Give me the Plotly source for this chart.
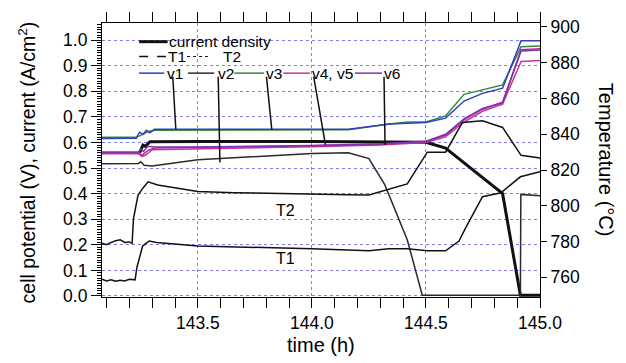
import plotly.graph_objects as go

# ---------------- data ----------------
t_cur = [143.245, 143.26, 143.27, 143.29, 143.5, 144.0, 144.5, 144.586, 144.836, 144.914, 145.0]
cur   = [0.56, 0.59, 0.585, 0.603, 0.604, 0.604, 0.601, 0.578, 0.40, 0.003, 0.003]

t_T1 = [143.08, 143.10, 143.12, 143.14, 143.16, 143.18, 143.20, 143.225, 143.233, 143.243, 143.258,
        143.287, 143.32, 143.5, 144.0, 144.25, 144.337, 144.418, 144.506, 144.586, 144.645, 144.674,
        144.748, 144.829, 144.914, 145.0]
T1   = [759.0, 758.0, 758.6, 757.8, 758.4, 758.0, 758.9, 758.6, 765.5, 771.0, 777.5,
        780.3, 779.5, 777.5, 776.0, 774.8, 776.0, 776.0, 774.8, 774.8, 780.3, 787.6,
        805.1, 807.3, 816.2, 819.0]

t_T2 = [143.08, 143.10, 143.12, 143.14, 143.16, 143.18, 143.20, 143.212, 143.218, 143.238, 143.26,
        143.282, 143.324, 143.5, 143.66, 144.0, 144.16, 144.25, 144.418, 144.506, 144.586, 144.66,
        144.748, 144.836, 144.917, 145.0]
T2   = [779.0, 778.2, 779.5, 780.5, 781.0, 779.5, 779.8, 779.0, 792.8, 806.0, 810.0,
        813.4, 811.6, 808.0, 807.3, 806.8, 806.2, 806.0, 812.2, 830.0, 830.0, 846.6,
        847.5, 843.8, 828.2, 826.7]

t_v1 = [143.08, 143.23, 143.245, 143.26, 143.275, 143.29, 143.31, 143.5, 144.0, 144.16, 144.34,
        144.5, 144.586, 144.667, 144.748, 144.836, 144.917, 145.0]
v1   = [0.616, 0.617, 0.640, 0.632, 0.648, 0.638, 0.652, 0.652, 0.652, 0.652, 0.672,
        0.678, 0.695, 0.762, 0.792, 0.812, 0.998, 0.998]

t_v2 = [143.08, 143.24, 143.25, 143.265, 143.30, 143.5, 144.0, 144.16, 144.25, 144.32, 144.418,
        144.484, 144.914, 144.916, 145.0]
v2   = [0.517, 0.518, 0.525, 0.511, 0.508, 0.532, 0.557, 0.560, 0.537, 0.434, 0.220,
        0.003, 0.003, 0.397, 0.392]

t_v3 = [143.08, 143.23, 143.25, 143.28, 143.31, 143.5, 144.0, 144.16, 144.34, 144.42, 144.5,
        144.586, 144.667, 144.748, 144.836, 144.917, 145.0]
v3   = [0.620, 0.620, 0.628, 0.642, 0.648, 0.648, 0.648, 0.650, 0.672, 0.680, 0.680,
        0.704, 0.788, 0.806, 0.825, 0.974, 0.977]

t_v4 = [143.08, 143.24, 143.255, 143.27, 143.30, 143.5, 144.0, 144.3, 144.5, 144.586, 144.667,
        144.748, 144.836, 144.917, 145.0]
v4   = [0.556, 0.556, 0.545, 0.550, 0.572, 0.575, 0.583, 0.590, 0.600, 0.622, 0.680,
        0.722, 0.750, 0.917, 0.920]

t_v5 = [143.08, 143.24, 143.255, 143.28, 143.31, 143.5, 144.0, 144.3, 144.5, 144.586, 144.667,
        144.748, 144.836, 144.917, 145.0]
v5   = [0.560, 0.560, 0.550, 0.568, 0.578, 0.580, 0.587, 0.593, 0.603, 0.628, 0.688,
        0.730, 0.757, 0.963, 0.966]

t_v6 = [143.08, 143.24, 143.25, 143.262, 143.28, 143.31, 143.5, 144.0, 144.3, 144.5, 144.586,
        144.667, 144.748, 144.836, 144.917, 145.0]
v6   = [0.563, 0.563, 0.575, 0.565, 0.585, 0.582, 0.582, 0.588, 0.595, 0.605, 0.632,
        0.692, 0.733, 0.755, 0.958, 0.961]

x_tickvals = [143.5, 144.0, 144.5, 145.0]
x_ticktext = ["143.5", "144.0", "144.5", "145.0"]
y2_tickvals = [760, 780, 800, 820, 840, 860, 880, 900]

# ---------------- styles ----------------
FONT = "Liberation Sans, Arial, Helvetica, sans-serif"
BLUE = "#2f3fc0"
GREEN = "#2f8a3a"
MAGENTA = "#c8349c"
MAGENTA2 = "#b02a8c"
PURPLE = "#7a33b5"
BLACK = "#111111"
V2COL = "#2a2a2a"
GRID = "rgba(120,120,235,0.95)"

fig = go.Figure()

fig.add_trace(go.Scatter(x=t_cur, y=cur, mode="lines", line=dict(color=BLACK, width=3), name="current density"))
fig.add_trace(go.Scatter(x=t_T1, y=T1, mode="lines", line=dict(color=BLACK, width=1.5), name="T1", yaxis="y2"))
fig.add_trace(go.Scatter(x=t_T2, y=T2, mode="lines", line=dict(color=BLACK, width=1.5), name="T2", yaxis="y2"))
fig.add_trace(go.Scatter(x=t_v2, y=v2, mode="lines", line=dict(color=V2COL, width=1.5), name="v2"))
fig.add_trace(go.Scatter(x=t_v3, y=v3, mode="lines", line=dict(color=GREEN, width=1.5), name="v3"))
fig.add_trace(go.Scatter(x=t_v1, y=v1, mode="lines", line=dict(color=BLUE, width=1.5), name="v1"))
fig.add_trace(go.Scatter(x=t_v4, y=v4, mode="lines", line=dict(color=MAGENTA, width=1.5), name="v4"))
fig.add_trace(go.Scatter(x=t_v5, y=v5, mode="lines", line=dict(color=MAGENTA2, width=1.5), name="v5"))
fig.add_trace(go.Scatter(x=t_v6, y=v6, mode="lines", line=dict(color=PURPLE, width=1.5), name="v6"))

# ---------------- in-plot legend ----------------
shapes = []
annotations = []

def hline(x0, x1, y, color, width=1.5, dash="solid"):
    shapes.append(dict(type="line", xref="x", yref="y", x0=x0, x1=x1, y0=y, y1=y,
                       line=dict(color=color, width=width, dash=dash)))

def label(x, y, text, size=15.5, xanchor="left", yref="y"):
    annotations.append(dict(x=x, y=y, xref="x", yref=yref, text=text, showarrow=False,
                            xanchor=xanchor, yanchor="middle",
                            font=dict(family=FONT, size=size, color="black")))

r1, r2, r3 = 0.994, 0.936, 0.871
hline(143.2427, 143.3678, r1, BLACK, 3)
label(143.366, r1, "current density")
hline(143.2427, 143.3604, r2, BLACK, 1.5, "dash")
label(143.362, r2, "T1")
hline(143.4529, 143.5441, r2, BLACK, 1, "dot")
label(143.600, r2, "T2")
hline(143.2427, 143.3529, r3, BLUE)
label(143.354, r3, "v1")
hline(143.4573, 143.5718, r3, V2COL)
label(143.578, r3, "v2")
hline(143.660, 143.7907, r3, GREEN)
label(143.790, r3, "v3")
hline(143.8744, 143.9916, r3, MAGENTA)
label(143.992, r3, "v4, v5")
hline(144.1885, 144.3075, r3, PURPLE)
label(144.308, r3, "v6")

# callout lines from labels to curves
callouts = [
    (143.3903, 0.857, 143.4035, 0.6525),
    (143.5894, 0.857, 143.5969, 0.5221),
    (143.8009, 0.857, 143.8242, 0.6502),
    (144.0079, 0.857, 144.0595, 0.5907),
    (144.3163, 0.857, 144.3207, 0.5907),
]
for x0, y0, x1, y1 in callouts:
    shapes.append(dict(type="line", xref="x", yref="y", x0=x0, y0=y0, x1=x1, y1=y1,
                       line=dict(color=BLACK, width=1.5)))

# T1 / T2 labels on curves (temperature axis)
annotations.append(dict(x=143.885, y=797.5, xref="x", yref="y2", text="T2", showarrow=False,
                        font=dict(family=FONT, size=16, color="black")))
annotations.append(dict(x=143.885, y=770.6, xref="x", yref="y2", text="T1", showarrow=False,
                        font=dict(family=FONT, size=16, color="black")))

# axis titles
annotations.append(dict(x=0.5, y=-0.176, xref="paper", yref="paper", text="time (h)", showarrow=False,
                        xanchor="center", yanchor="middle", font=dict(family=FONT, size=20, color="black")))
annotations.append(dict(x=-0.172, y=0.49, xref="paper", yref="paper",
                        text="cell potential (V), current (A/cm<sup>2</sup>)", showarrow=False,
                        textangle=-90, xanchor="center", yanchor="middle",
                        font=dict(family=FONT, size=19.5, color="black")))
annotations.append(dict(x=1.151, y=0.5, xref="paper", yref="paper", text="Temperature (°C)",
                        showarrow=False, textangle=90, xanchor="center", yanchor="middle",
                        font=dict(family=FONT, size=20, color="black")))

fig.update_layout(
    width=626, height=363,
    margin=dict(l=102, r=86, t=19, b=66),
    paper_bgcolor="white", plot_bgcolor="white",
    showlegend=False,
    font=dict(family=FONT, size=17.5, color="black"),
    shapes=shapes, annotations=annotations,
    xaxis=dict(range=[143.08, 145.0], tickvals=x_tickvals, ticktext=x_ticktext,
               ticks="outside", ticklen=10, tickwidth=1.2, tickcolor="black",
               minor=dict(dtick=0.1, tick0=143.0, ticks="outside", ticklen=6, tickcolor="black",
                          showgrid=False),
               showline=True, linecolor="black", linewidth=1.2, mirror="allticks",
               showgrid=True, gridcolor=GRID, griddash="dot", gridwidth=1,
               zeroline=False, tickfont=dict(family=FONT, size=17.5)),
    yaxis=dict(range=[-0.004, 1.067], dtick=0.1, tick0=0, tickformat=".1f",
               ticks="outside", ticklen=10, tickwidth=1.2, tickcolor="black",
               minor=dict(dtick=0.01, tick0=0, ticks="outside", ticklen=4, tickcolor="black",
                          showgrid=False),
               showline=True, linecolor="black", linewidth=1.2,
               showgrid=True, gridcolor=GRID, griddash="dot", gridwidth=1,
               zeroline=False, tickfont=dict(family=FONT, size=17.5)),
    yaxis2=dict(range=[749, 902.2], overlaying="y", side="right", tickvals=y2_tickvals,
                ticks="outside", ticklen=6, tickwidth=1.2, tickcolor="black",
                showline=True, linecolor="black", linewidth=1.2, showgrid=False,
                zeroline=False, tickfont=dict(family=FONT, size=17.5)),
)

fig.write_html("out.html")
